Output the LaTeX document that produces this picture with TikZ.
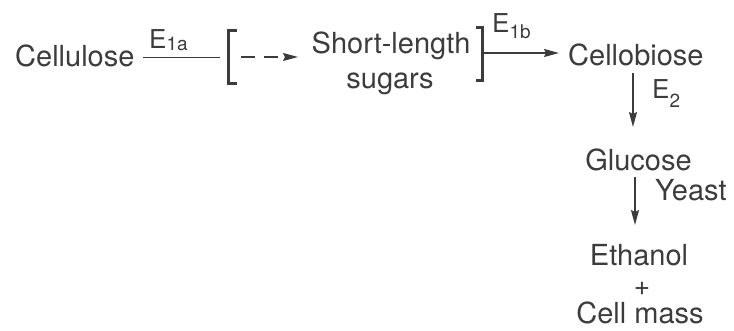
\documentclass[tikz,border=0pt]{standalone}
\usepackage{fontspec}
\setmainfont{TeX Gyre Heros}
\usetikzlibrary{arrows.meta}
\definecolor{ink}{RGB}{60,60,60}
\newcommand\lowsub[2]{\raisebox{-#1pt}{\fontsize{19}{19}\selectfont #2}}
\begin{document}
\begin{tikzpicture}[x=1pt,y=-1pt,
  every node/.style={inner sep=0pt, text=ink},
  main/.style={font=\fontsize{29}{35}\selectfont},
  lab/.style={font=\fontsize{26}{30}\selectfont},
  conn/.style={draw=ink, line width=1.4pt},
  arr/.style={conn, -{Stealth[length=15pt,width=8pt,inset=2pt]}},
  brk/.style={draw=ink, line width=3pt}]
\useasboundingbox (0,0) rectangle (734,330);

% nodes
\node[main, anchor=base west] (cellulose) at (15,66) {Cellulose};
\node[lab, anchor=base west] (e1a) at (149,48) {E\lowsub{2}{1a}};
\node[main, anchor=base] (short) at (391,53) {Short-length};
\node[main, anchor=base] (sugars) at (390,88) {sugars};
\node[lab, anchor=base west] (e1b) at (492,32) {E\lowsub{6}{1b}};
\node[main, anchor=base west] (cellobiose) at (568,65) {Cellobiose};
\node[lab, anchor=base west] (e2) at (652,98) {E\lowsub{9}{2}};
\node[main, anchor=base] (glucose) at (638.5,170) {Glucose};
\node[main, anchor=base west] (yeast) at (655,200) {Yeast};
\node[main, anchor=base] (ethanol) at (639,265) {Ethanol};
\node[font=\fontsize{28}{30}\selectfont, anchor=base, text depth=0pt, text height=15pt] (plus) at (642,295) {+};
\node[main, anchor=base, text height=21pt, text depth=0pt] (cellmass) at (640,323) {Cell mass};

% coordinates for connector ends
\coordinate (l1s) at (143,57.5);
\coordinate (l1e) at (220,57.5);
\coordinate (d1s) at (241,57);
\coordinate (d1e) at (298,57);
\coordinate (l2s) at (482,53);
\coordinate (l2e) at (559,53);
\coordinate (v1s) at (633,73);
\coordinate (v1e) at (633,127);
\coordinate (v2s) at (635,177);
\coordinate (v2e) at (635,225);

% brackets
\draw[brk] (237,30) -- (228,30) -- (228,83) -- (237,83);
\draw[brk] (476,27) -- (482,27) -- (482,80) -- (476,80);

% connectors
\draw[conn] (l1s) -- (l1e);
\draw[arr, dash pattern=on 14pt off 9pt] (d1s) -- (d1e);
\draw[arr] (l2s) -- (l2e);
\draw[arr] (v1s) -- (v1e);
\draw[arr] (v2s) -- (v2e);
\end{tikzpicture}
\end{document}
